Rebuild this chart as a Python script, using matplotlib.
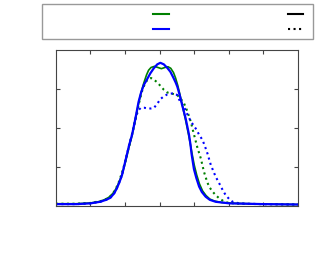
import matplotlib
matplotlib.use('Agg')
import matplotlib.pyplot as plt
from matplotlib.lines import Line2D
from matplotlib.patches import Rectangle

# curve 1 (green, solid)
x_g = [0.0, 0.6, 1.0, 1.28, 1.45, 1.57, 1.68, 1.76, 1.84, 1.91, 1.98, 2.05, 2.12, 2.20, 2.30,
       2.39, 2.46, 2.54, 2.62, 2.68, 2.75, 2.85, 2.95, 3.05, 3.15, 3.24, 3.32, 3.40, 3.46, 3.52,
       3.58, 3.65, 3.70, 3.75, 3.80, 3.85, 3.90, 3.95, 4.00, 4.07, 4.15, 4.24, 4.34, 4.45, 4.58,
       4.8, 5.2, 6.0, 7.0]
y_g = [0.06, 0.06, 0.08, 0.12, 0.18, 0.25, 0.36, 0.48, 0.64, 0.80, 1.02, 1.27, 1.53, 1.80, 2.22,
       2.62, 2.90, 3.15, 3.36, 3.48, 3.55, 3.58, 3.55, 3.52, 3.55, 3.57, 3.53, 3.42, 3.28, 3.10,
       2.88, 2.60, 2.40, 2.20, 1.98, 1.76, 1.52, 1.28, 1.05, 0.80, 0.57, 0.39, 0.27, 0.18, 0.13,
       0.09, 0.07, 0.05, 0.04]

# curve 2 (blue, solid)
x_b = [0.0, 0.6, 1.0, 1.28, 1.45, 1.57, 1.68, 1.76, 1.84, 1.91, 1.98, 2.05, 2.12, 2.20, 2.30,
       2.39, 2.46, 2.54, 2.63, 2.73, 2.83, 2.93, 3.02, 3.12, 3.22, 3.31, 3.39, 3.46, 3.51, 3.58,
       3.65, 3.70, 3.75, 3.80, 3.85, 3.89, 3.92, 3.96, 3.99, 4.06, 4.14, 4.22, 4.33, 4.45, 4.62,
       5.01, 6.0, 7.0]
y_b = [0.05, 0.05, 0.07, 0.11, 0.16, 0.21, 0.32, 0.45, 0.62, 0.79, 1.05, 1.31, 1.57, 1.82, 2.25,
       2.67, 2.90, 3.10, 3.24, 3.40, 3.53, 3.63, 3.67, 3.63, 3.54, 3.44, 3.30, 3.17, 3.06, 2.84,
       2.59, 2.42, 2.25, 2.04, 1.82, 1.58, 1.35, 1.12, 0.95, 0.72, 0.50, 0.36, 0.24, 0.16, 0.11,
       0.07, 0.05, 0.04]

# curve 3 (green, dotted)
x_gd = [0.0, 0.6, 1.0, 1.3, 1.5, 1.62, 1.72, 1.82, 1.92, 2.02, 2.12, 2.22, 2.32, 2.42, 2.50,
        2.58, 2.66, 2.75, 2.83, 2.93, 3.02, 3.12, 3.22, 3.36, 3.51, 3.60, 3.70, 3.80, 3.90, 3.99,
        4.09, 4.19, 4.28, 4.38, 4.45, 4.53, 4.62, 4.72, 4.84, 4.96, 5.2, 6.0, 7.0]
y_gd = [0.06, 0.06, 0.08, 0.13, 0.20, 0.29, 0.42, 0.62, 0.88, 1.20, 1.55, 1.92, 2.32, 2.70, 2.97,
        3.15, 3.25, 3.28, 3.24, 3.17, 3.08, 2.98, 2.91, 2.88, 2.84, 2.76, 2.64, 2.43, 2.16, 1.84,
        1.50, 1.22, 0.88, 0.60, 0.47, 0.37, 0.28, 0.20, 0.13, 0.09, 0.06, 0.05, 0.04]

# curve 4 (blue, dotted)
x_bd = [0.0, 0.6, 1.0, 1.28, 1.45, 1.57, 1.68, 1.76, 1.84, 1.91, 1.98, 2.05, 2.12, 2.20, 2.27,
        2.33, 2.39, 2.46, 2.55, 2.65, 2.75, 2.83, 2.93, 3.02, 3.12, 3.22, 3.32, 3.41, 3.50, 3.60,
        3.70, 3.80, 3.90, 4.04, 4.14, 4.24, 4.31, 4.38, 4.48, 4.55, 4.62, 4.70, 4.77, 4.84, 4.91,
        5.01, 5.11, 5.25, 5.5, 6.0, 7.0]
y_bd = [0.05, 0.05, 0.07, 0.11, 0.16, 0.21, 0.32, 0.45, 0.62, 0.79, 1.05, 1.31, 1.57, 1.82, 2.10,
        2.33, 2.46, 2.52, 2.52, 2.50, 2.50, 2.51, 2.62, 2.74, 2.81, 2.86, 2.88, 2.89, 2.85, 2.66,
        2.55, 2.35, 2.17, 1.99, 1.83, 1.69, 1.53, 1.35, 1.05, 0.90, 0.75, 0.62, 0.50, 0.38, 0.28,
        0.18, 0.11, 0.08, 0.06, 0.05, 0.04]

labels = ['Reference density', 'Model density', 'Full calculation', 'Approximation']

fig = plt.figure(figsize=(3.25, 2.56), dpi=100)
ax = fig.add_axes([0.172, 0.195, 0.745, 0.61])

ax.plot(x_gd, y_gd, color='#008000', linestyle=':', linewidth=1.5)
ax.plot(x_bd, y_bd, color='#0000ff', linestyle=':', linewidth=1.5)
ax.plot(x_g, y_g, color='#008000', linestyle='-', linewidth=1.2)
ax.plot(x_b, y_b, color='#0000ff', linestyle='-', linewidth=1.6)

ax.set_xlim(0, 7)
ax.set_ylim(0, 4)
ax.set_xticks([1, 2, 3, 4, 5, 6])
ax.set_yticks([1, 2, 3])
ax.tick_params(direction='in', top=True, right=True, length=3, width=0.8, color='#444444',
               labelbottom=False, labelleft=False)
for s in ax.spines.values():
    s.set_color('#444444')
    s.set_linewidth(0.8)

# legend frame drawn separately so the entries can sit inside it with extra side padding
fig.patches.append(Rectangle((0.129, 0.8477), 0.834, 0.1367, transform=fig.transFigure,
                             facecolor='white', edgecolor='#999999', linewidth=1.0))

handles = [Line2D([], [], color='#008000', lw=1.5),
           Line2D([], [], color='#0000ff', lw=1.5),
           Line2D([], [], color='k', lw=1.5),
           Line2D([], [], color='k', lw=1.5, linestyle=':')]
leg = fig.legend(handles, labels, ncol=2, loc='lower left',
                 bbox_to_anchor=(0.1446, 0.848, 0.8015, 0.137), mode='expand',
                 markerfirst=False, fontsize=7.5, frameon=False,
                 handlelength=1.45, borderaxespad=0)
for t in leg.get_texts():
    t.set_color('white')

fig.savefig('out.png', dpi=100)
